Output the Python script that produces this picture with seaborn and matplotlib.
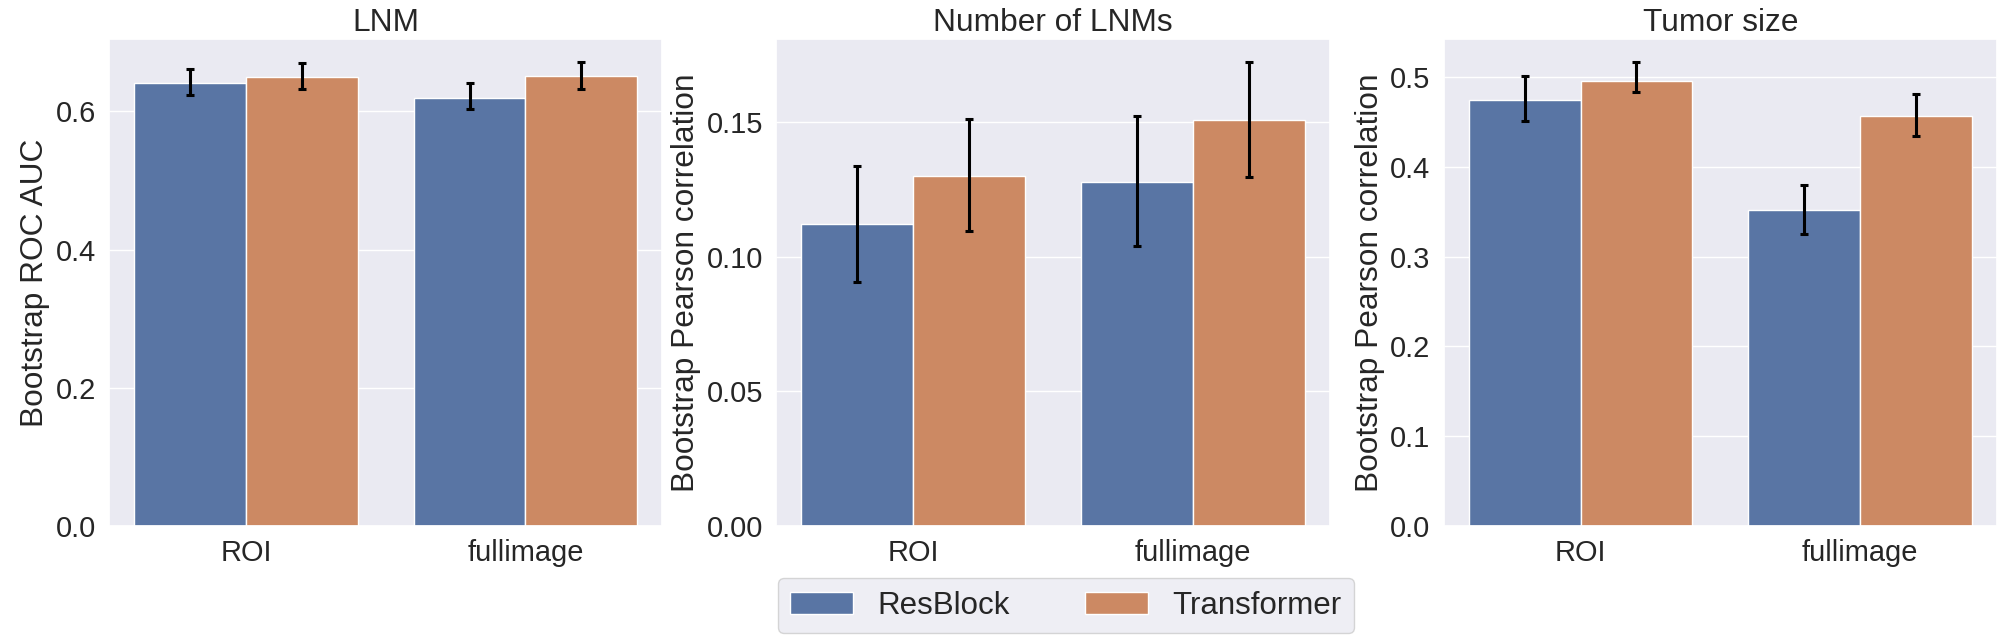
import matplotlib
matplotlib.use('Agg')
import matplotlib.pyplot as plt
import pandas as pd
import numpy as np
import seaborn as sns

groups = ['ROI', 'fullimage']
models = ['ResBlock', 'Transformer']
titles = ['LNM', 'Number of LNMs', 'Tumor size']
ylabels = ['Bootstrap ROC AUC', 'Bootstrap Pearson correlation', 'Bootstrap Pearson correlation']
yticks = [[0.0, 0.2, 0.4, 0.6], [0.00, 0.05, 0.10, 0.15], [0.0, 0.1, 0.2, 0.3, 0.4, 0.5]]
ytick_fmt = ['{:.1f}', '{:.2f}', '{:.1f}']

# LNM (ROC AUC)
lnm_res = [0.641, 0.620]
lnm_res_lo = [0.624, 0.604]
lnm_res_hi = [0.661, 0.641]
lnm_tr = [0.650, 0.651]
lnm_tr_lo = [0.632, 0.633]
lnm_tr_hi = [0.670, 0.671]

# Number of LNMs (Pearson)
num_res = [0.112, 0.1276]
num_res_lo = [0.0907, 0.1038]
num_res_hi = [0.1335, 0.152]
num_tr = [0.130, 0.1505]
num_tr_lo = [0.1093, 0.1296]
num_tr_hi = [0.1511, 0.172]

# Tumor size (Pearson)
size_res = [0.4745, 0.3515]
size_res_lo = [0.451, 0.3255]
size_res_hi = [0.501, 0.379]
size_tr = [0.4953, 0.4563]
size_tr_lo = [0.483, 0.4344]
size_tr_hi = [0.516, 0.481]

panels = [
    ((lnm_res, lnm_res_lo, lnm_res_hi), (lnm_tr, lnm_tr_lo, lnm_tr_hi)),
    ((num_res, num_res_lo, num_res_hi), (num_tr, num_tr_lo, num_tr_hi)),
    ((size_res, size_res_lo, size_res_hi), (size_tr, size_tr_lo, size_tr_hi)),
]

sns.set_theme(style='darkgrid', font_scale=1.9)
plt.rcParams['font.family'] = ['Liberation Sans', 'DejaVu Sans']

fig, axes = plt.subplots(1, 3, figsize=(20, 6.41), dpi=100)
fig.subplots_adjust(left=0.0545, right=0.9985, bottom=0.179, top=0.939, wspace=0.206)

for i, ax in enumerate(axes):
    res, tr = panels[i]
    df = pd.DataFrame({
        'input': groups * 2,
        'model': [models[0]] * 2 + [models[1]] * 2,
        'value': res[0] + tr[0],
    })
    sns.barplot(data=df, x='input', y='value', hue='model', order=groups,
                hue_order=models, errorbar=None, ax=ax)
    for cont, (mean, lo, hi) in zip(ax.containers, (res, tr)):
        xs = [p.get_x() + p.get_width() / 2 for p in cont.patches]
        ax.errorbar(xs, mean, yerr=[np.subtract(mean, lo), np.subtract(hi, mean)],
                    fmt='none', ecolor='black', elinewidth=2.2, capsize=2.8,
                    capthick=2.2)
    ax.set_title(titles[i])
    ax.set_ylabel(ylabels[i])
    ax.set_xlabel('')
    ax.set_yticks(yticks[i])
    ax.set_yticklabels([ytick_fmt[i].format(t) for t in yticks[i]])
    ax.autoscale(axis='y')
    ax.set_ylim(bottom=0)
    handles, labels = ax.get_legend_handles_labels()
    ax.get_legend().remove()

fig.legend(handles, labels, loc='lower center', ncol=2, fontsize=22.5,
           columnspacing=2.4, bbox_to_anchor=(0.533, -0.012), frameon=True)

fig.savefig('out.png', dpi=100)
